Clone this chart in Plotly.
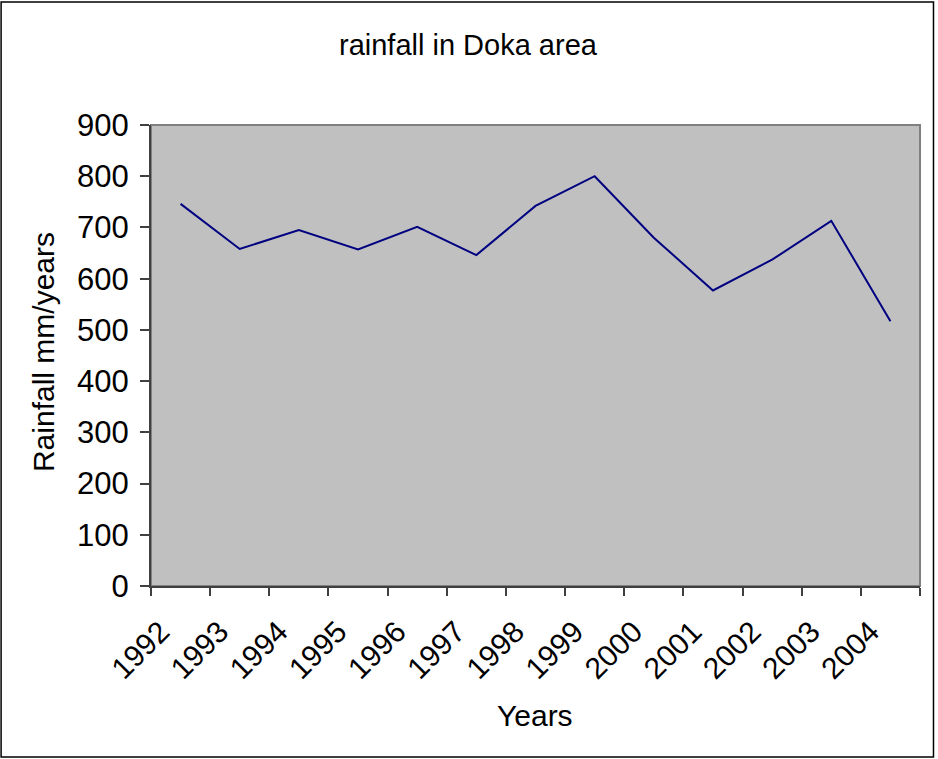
import plotly.graph_objects as go

years = ["1992", "1993", "1994", "1995", "1996", "1997", "1998",
         "1999", "2000", "2001", "2002", "2003", "2004"]
rainfall = [746, 658, 695, 657, 701, 646, 742, 800, 680, 577, 637, 713, 517]
y_ticks = [0, 100, 200, 300, 400, 500, 600, 700, 800, 900]

W, H = 938, 759
L, R, T, B = 151, 17.5, 125, 173
pw, ph = W - L - R, H - T - B

def px(x):
    return (x - L) / pw

def py(y):
    return (H - B - y) / ph

FONT = "Arial, Liberation Sans, sans-serif"

fig = go.Figure()
fig.add_trace(go.Scatter(x=years, y=rainfall, mode="lines",
                         line=dict(color="#000080", width=2), showlegend=False))

fig.update_layout(
    width=W, height=H,
    margin=dict(l=L, r=R, t=T, b=B, pad=0),
    paper_bgcolor="white",
    plot_bgcolor="#c0c0c0",
    font=dict(family=FONT, size=29, color="black"),
    xaxis=dict(type="category", range=[-0.5, len(years) - 0.5],
               showgrid=False, zeroline=False,
               showline=True, linecolor="#404040", linewidth=2,
               ticks="outside", ticklen=8, tickcolor="#404040", tickwidth=1.5,
               tickson="boundaries", tickangle=-45,
               ticklabelshift=-20, ticklabelstandoff=14,
               tickfont=dict(size=30, family=FONT)),
    yaxis=dict(range=[0, 900], tickvals=y_ticks, showgrid=False, zeroline=False,
               showline=True, linecolor="#404040", linewidth=2,
               ticks="outside", ticklen=9, tickcolor="#404040", tickwidth=1.5,
               ticklabelstandoff=5,
               tickfont=dict(size=31, family=FONT)),
    shapes=[
        dict(type="rect", xref="paper", yref="paper", x0=0, x1=1, y0=0, y1=1,
             line=dict(color="#808080", width=2), layer="below"),
        dict(type="rect", xref="paper", yref="paper",
             x0=px(1), x1=px(934), y0=py(757), y1=py(2),
             line=dict(color="black", width=1.5)),
    ],
    annotations=[
        dict(text="rainfall in Doka area", xref="paper", yref="paper",
             x=px(469), y=py(45), showarrow=False, xanchor="center", yanchor="middle",
             font=dict(size=29, family=FONT)),
        dict(text="Years", xref="paper", yref="paper",
             x=px(535), y=py(715), showarrow=False, xanchor="center", yanchor="middle",
             font=dict(size=30, family=FONT)),
        dict(text="Rainfall mm/years", xref="paper", yref="paper",
             x=px(43), y=py(352), showarrow=False, xanchor="center", yanchor="middle",
             textangle=-90, font=dict(size=30, family=FONT)),
    ],
)

fig.write_html("out.html")
